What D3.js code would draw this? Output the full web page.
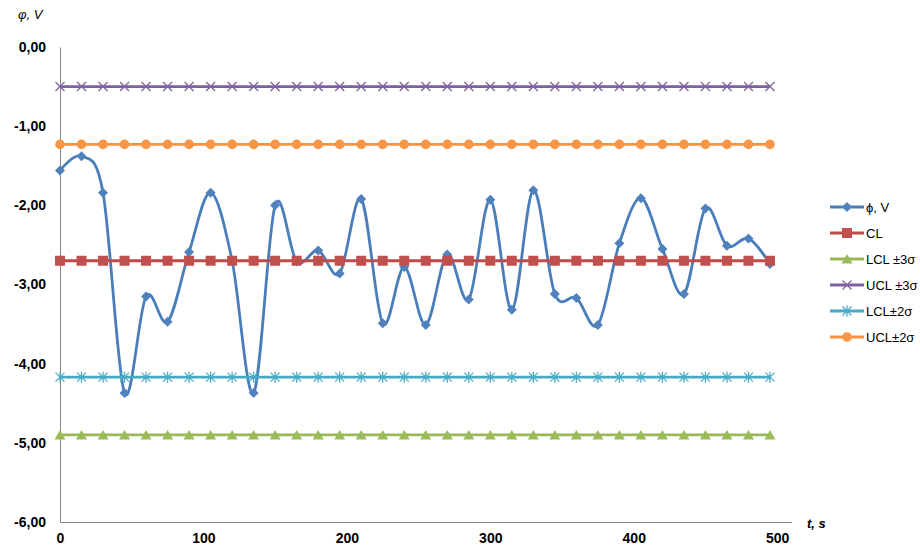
<!DOCTYPE html>
<html><head><meta charset="utf-8">
<script src="https://cdn.jsdelivr.net/npm/d3@7"></script>
<style>body{margin:0;background:#fff;} svg{display:block;}</style>
</head><body>
<svg id="chart" width="920" height="549"></svg>
<script>
// ---- data ----
const tValues = [0,15,30,45,60,75,90,105,120,135,150,165,180,195,210,225,240,255,270,285,300,315,330,345,360,375,390,405,420,435,450,465,480,495];
const phiValues = [-1.56,-1.38,-1.84,-4.37,-3.15,-3.47,-2.59,-1.84,-2.70,-4.37,-2.00,-2.71,-2.57,-2.86,-1.92,-3.49,-2.78,-3.51,-2.62,-3.19,-1.93,-3.32,-1.81,-3.12,-3.17,-3.51,-2.48,-1.91,-2.55,-3.12,-2.04,-2.51,-2.42,-2.74];
const limitNames = ["CL","LCL ±3σ","UCL ±3σ","LCL±2σ","UCL±2σ"];
const limitValues = [-2.70,-4.90,-0.50,-4.17,-1.23];
const yTicks = [0,-1,-2,-3,-4,-5,-6];
const xTicks = [0,100,200,300,400,500];

// ---- styles ----
const lineColors = ["#4A7EBB","#BE4B48","#98B954","#7D60A0","#46AAC5","#F69240"];
const markColors = ["#4F81BD","#C0504D","#9BBB59","#8064A2","#4BACC6","#F79646"];
const markTypes = ["diamond","square","triangle","x","star","circle"];
const legendLabels = ["ϕ, V"].concat(limitNames);

const svg = d3.select("#chart");
const x = d3.scaleLinear().domain([0,510]).range([60,791.5]);
const y = d3.scaleLinear().domain([-6,0]).range([522,47]);

// axes
const xAxis = svg.append("g").attr("transform","translate(0,522)")
  .call(d3.axisBottom(x).tickValues(xTicks).tickSize(0).tickPadding(11).tickFormat(d3.format("d")));
const yAxis = svg.append("g").attr("transform","translate(60,0)")
  .call(d3.axisLeft(y).tickValues(yTicks).tickSize(0).tickPadding(14).tickFormat(d => d3.format(".2f")(d).replace(".",",").replace("−","-")));
[xAxis,yAxis].forEach(a=>{
  a.select(".domain").attr("stroke","#868686").attr("stroke-width",1);
  a.selectAll("text").attr("font-family","Liberation Sans, Arial, sans-serif").attr("font-size","14px").attr("font-weight","bold").attr("fill","#000");
});

// axis titles
svg.append("text").attr("x",18).attr("y",19).text("φ, V")
  .attr("font-family","Liberation Sans, Arial, sans-serif").attr("font-size","13px").attr("font-style","italic").attr("fill","#000");
svg.append("text").attr("x",807).attr("y",528).text("t, s")
  .attr("font-family","Liberation Sans, Arial, sans-serif").attr("font-size","13px").attr("font-style","italic").attr("font-weight","bold").attr("fill","#000");

function drawMarker(g, type, cx, cy, i){
  const s = 5;
  if(type==="diamond"){
    g.append("path").attr("d",`M${cx},${cy-s}L${cx+s},${cy}L${cx},${cy+s}L${cx-s},${cy}Z`).attr("fill",markColors[i]);
  } else if(type==="square"){
    g.append("rect").attr("x",cx-5).attr("y",cy-5).attr("width",10).attr("height",10).attr("fill",markColors[i]);
  } else if(type==="triangle"){
    g.append("path").attr("d",`M${cx},${cy-5}L${cx+5.5},${cy+4.5}L${cx-5.5},${cy+4.5}Z`).attr("fill",markColors[i]);
  } else if(type==="x"){
    g.append("path").attr("d",`M${cx-4.5},${cy-4.5}L${cx+4.5},${cy+4.5}M${cx-4.5},${cy+4.5}L${cx+4.5},${cy-4.5}`)
      .attr("stroke",markColors[i]).attr("stroke-width",1.3).attr("fill","none");
  } else if(type==="star"){
    g.append("path").attr("d",`M${cx-4.5},${cy-4.5}L${cx+4.5},${cy+4.5}M${cx-4.5},${cy+4.5}L${cx+4.5},${cy-4.5}M${cx},${cy-5.5}L${cx},${cy+5.5}`)
      .attr("stroke",markColors[i]).attr("stroke-width",1.3).attr("fill","none");
  } else if(type==="circle"){
    g.append("circle").attr("cx",cx).attr("cy",cy).attr("r",4.8).attr("fill",markColors[i]);
  }
}

// series
const allSeries = [phiValues].concat(limitValues.map(v => tValues.map(() => v)));
allSeries.forEach((vals,i)=>{
  const pts = tValues.map((t,k)=>[x(t), y(vals[k])]);
  const g = svg.append("g");
  const line = d3.line().curve(i===0 ? d3.curveCardinal.tension(0) : d3.curveLinear);
  g.append("path").attr("d",line(pts)).attr("fill","none").attr("stroke",lineColors[i]).attr("stroke-width",2.8).attr("stroke-linejoin","round");
  pts.forEach(p=>drawMarker(g, markTypes[i], p[0], p[1], i));
});

// legend
const lg = svg.append("g");
legendLabels.forEach((lab,i)=>{
  const ly = 207 + i*26;
  lg.append("line").attr("x1",830).attr("x2",864).attr("y1",ly).attr("y2",ly).attr("stroke",lineColors[i]).attr("stroke-width",2.8);
  drawMarker(lg, markTypes[i], 847, ly, i);
  lg.append("text").attr("x",866).attr("y",ly+4.5).text(lab)
    .attr("font-family","Liberation Sans, Arial, sans-serif").attr("font-size","13px").attr("fill","#000");
});
</script>
</body></html>
